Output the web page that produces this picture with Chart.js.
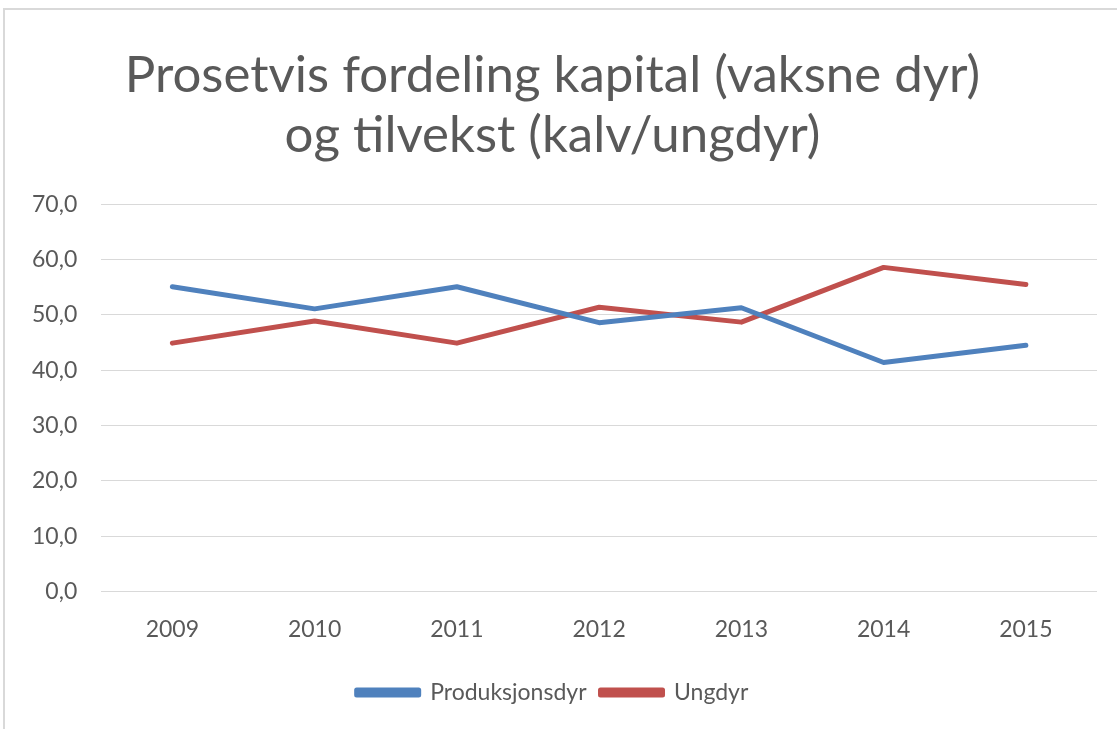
<!DOCTYPE html>
<html>
<head>
<meta charset="utf-8">
<script src="https://cdn.jsdelivr.net/npm/chart.js@4"></script>
<style>
  html,body{margin:0;padding:0;background:#fff;overflow:hidden}
  #frame{position:absolute;left:3px;top:8px;width:1140px;height:760px;border:2px solid #d9d9d9;box-sizing:border-box}
  #wrap{position:absolute;left:0;top:0;width:1117px;height:729px}
</style>
</head>
<body>
<div id="frame"></div>
<div id="wrap"><canvas id="c"></canvas></div>
<script>
// ── data ──
const YEARS = ['2009','2010','2011','2012','2013','2014','2015'];
const PRODUKSJONSDYR = [55.1, 51.1, 55.1, 48.6, 51.3, 41.4, 44.5];
const UNGDYR = [44.9, 48.9, 44.9, 51.4, 48.7, 58.6, 55.5];
const TITLE = ['Prosetvis fordeling kapital (vaksne dyr)', 'og tilvekst (kalv/ungdyr)'];

const GREY = '#595959';
const FONT = 'Lato, "Open Sans", sans-serif';

new Chart(document.getElementById('c').getContext('2d'), {
  type: 'line',
  data: {
    labels: YEARS,
    datasets: [
      { label: 'Produksjonsdyr', data: PRODUKSJONSDYR, borderColor: '#4F81BD', backgroundColor: '#4F81BD', borderWidth: 5, pointRadius: 0, tension: 0, borderCapStyle: 'round', borderJoinStyle: 'round' },
      { label: 'Ungdyr', data: UNGDYR, borderColor: '#C0504D', backgroundColor: '#C0504D', borderWidth: 5, pointRadius: 0, tension: 0, borderCapStyle: 'round', borderJoinStyle: 'round' }
    ]
  },
  options: {
    responsive: true, maintainAspectRatio: false, animation: false,
    layout: { padding: { left: 8, right: 20, top: 45, bottom: 15 } },
    plugins: {
      title: { display: true, text: TITLE, color: GREY, font: { family: FONT, size: 51, weight: 'normal', lineHeight: 1.18 }, padding: { top: 0, bottom: 39 } },
      legend: { position: 'bottom', labels: { color: GREY, font: { family: FONT, size: 23 }, boxWidth: 62, boxHeight: 5, padding: 14 } },
      tooltip: { enabled: false }
    },
    scales: {
      x: {
        offset: true,
        grid: { display: false, drawTicks: false },
        border: { display: false },
        ticks: { color: GREY, font: { family: FONT, size: 23 }, padding: 24 }
      },
      y: {
        min: 0, max: 70,
        grid: { color: '#d9d9d9', lineWidth: 1, drawTicks: false },
        border: { display: false },
        ticks: { stepSize: 10, color: GREY, font: { family: FONT, size: 23 }, padding: 24,
          callback: v => v.toFixed(1).replace('.', ',') }
      }
    }
  }
});
</script>
</body>
</html>
